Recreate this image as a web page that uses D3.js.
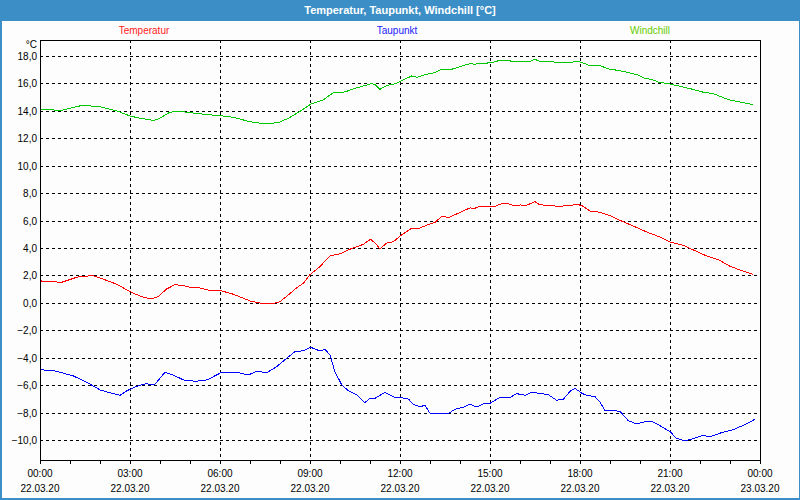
<!DOCTYPE html>
<html>
<head>
<meta charset="utf-8">
<script src="https://cdn.jsdelivr.net/npm/d3@7"></script>
<style>
html,body{margin:0;padding:0;background:#fff;}
svg{display:block;}
text{font-family:"Liberation Sans",Arial,sans-serif;}
</style>
</head>
<body>
<svg id="chart" width="800" height="500"></svg>
<script>
// ---- data ----
const title = "Temperatur, Taupunkt, Windchill [°C]";
const seriesNames = ["Temperatur", "Taupunkt", "Windchill"];
const seriesColors = ["#ff0000", "#0000ff", "#00c800"];
const legendTextColors = ["#ff1a1a", "#2020ff", "#66cc00"];
const yTicks = [-10, -8, -6, -4, -2, 0, 2, 4, 6, 8, 10, 12, 14, 16, 18];
const xMajorTicks = [0, 3, 6, 9, 12, 15, 18, 21, 24];
const xTimeLabels = ["00:00","03:00","06:00","09:00","12:00","15:00","18:00","21:00","00:00"];
const xDateLabels = ["22.03.20","22.03.20","22.03.20","22.03.20","22.03.20","22.03.20","22.03.20","22.03.20","23.03.20"];

const tempHours = [0,0.72,1.33,1.78,2.06,2.56,3.0,3.33,3.67,3.94,4.22,4.5,4.78,5.0,5.28,5.67,6.06,6.44,7.0,7.5,7.78,8.0,8.28,8.56,8.78,9.0,9.33,9.67,10.0,10.33,10.78,11.02,11.2,11.33,11.56,11.78,12.0,12.17,12.39,12.61,12.89,13.17,13.39,13.64,13.94,14.33,14.5,14.67,15.17,15.39,15.61,15.83,16.0,16.2,16.5,16.67,17.06,17.33,17.5,17.94,18.06,18.33,18.67,19.0,19.33,19.78,20.22,20.67,21.0,21.44,21.78,22.22,22.61,23.0,23.33,23.78];
const tempValues = [1.6,1.5,1.94,1.97,1.77,1.36,0.82,0.5,0.28,0.45,1.01,1.33,1.26,1.14,1.12,0.89,0.87,0.63,0.14,-0.08,-0.05,0.09,0.58,1.11,1.43,2.06,2.64,3.44,3.57,3.91,4.27,4.64,4.3,3.93,4.37,4.46,4.87,5.12,5.44,5.41,5.66,5.88,6.29,6.24,6.53,6.92,6.9,7.04,7.04,7.23,7.23,7.07,7.14,7.1,7.38,7.14,7.12,6.99,7.1,7.16,7.09,6.7,6.6,6.36,6.02,5.6,5.17,4.8,4.44,4.2,3.86,3.42,3.15,2.67,2.4,2.06];

const dewHours = [0,0.39,0.78,1.11,1.44,1.72,2.0,2.33,2.67,2.89,3.17,3.5,3.83,4.17,4.44,4.78,5.17,5.56,5.78,6.06,6.56,6.94,7.22,7.56,7.89,8.22,8.5,8.78,9.02,9.33,9.5,9.67,9.83,10.06,10.28,10.56,10.83,11.0,11.17,11.5,11.83,12.0,12.28,12.44,12.67,12.83,13.0,13.33,13.61,13.83,14.11,14.33,14.56,14.83,15.0,15.33,15.67,15.89,16.17,16.39,16.67,16.94,17.22,17.44,17.67,17.83,18.06,18.22,18.5,18.67,18.83,19.06,19.33,19.61,19.89,20.22,20.44,20.67,21.0,21.22,21.5,21.72,22.06,22.39,22.72,23.11,23.5,23.83];
const dewValues = [-4.89,-4.91,-5.13,-5.33,-5.67,-5.99,-6.35,-6.55,-6.74,-6.42,-6.13,-5.91,-5.93,-5.06,-5.26,-5.62,-5.72,-5.62,-5.38,-5.06,-5.06,-5.26,-4.99,-5.09,-4.65,-4.04,-3.56,-3.49,-3.24,-3.51,-3.4,-3.8,-5.02,-5.99,-6.4,-6.72,-7.28,-6.96,-6.96,-6.52,-6.91,-6.89,-7.01,-7.38,-7.6,-7.45,-8.05,-8.05,-8.07,-7.76,-7.61,-7.39,-7.6,-7.32,-7.32,-6.89,-6.89,-6.62,-6.74,-6.52,-6.6,-6.69,-7.1,-7.03,-6.45,-6.23,-6.59,-6.74,-6.84,-7.23,-7.86,-7.84,-7.91,-8.59,-8.83,-8.64,-8.69,-8.96,-9.39,-9.88,-10.07,-9.93,-9.7,-9.72,-9.46,-9.24,-8.88,-8.49];

const chillHours = [0,0.72,1.33,1.89,2.56,3.0,3.33,3.78,3.94,4.33,4.67,5.0,5.56,6.0,6.44,7.0,7.5,7.94,8.28,8.67,9.02,9.44,9.78,10.17,10.39,10.67,11.06,11.17,11.33,11.56,11.83,12.0,12.39,12.56,12.89,13.17,13.39,13.72,14.06,14.33,14.5,14.67,15.06,15.33,15.56,15.83,16.06,16.28,16.5,16.67,17.11,17.44,17.94,18.06,18.33,18.67,18.94,19.33,19.67,19.94,20.17,20.39,20.61,21.0,21.33,21.67,22.11,22.44,22.94,23.33,23.78];
const chillValues = [14.1,14.04,14.36,14.35,14.0,13.63,13.46,13.31,13.4,13.9,13.97,13.87,13.73,13.65,13.53,13.21,13.05,13.14,13.46,13.97,14.48,14.8,15.33,15.38,15.57,15.74,16.0,15.9,15.57,15.84,15.98,16.13,16.55,16.45,16.67,16.79,17.03,17.03,17.27,17.44,17.4,17.47,17.5,17.69,17.69,17.57,17.6,17.57,17.76,17.59,17.57,17.5,17.59,17.52,17.3,17.3,17.06,16.93,16.76,16.62,16.35,16.3,16.1,15.96,15.79,15.62,15.36,15.26,14.82,14.65,14.45];

// ---- layout ----
const W = 800, H = 500;
const plot = {left: 40, right: 760, top: 40, bottom: 460};
const svg = d3.select("#chart");

const x = d3.scaleLinear().domain([0, 24]).range([plot.left, plot.right]);
const y = d3.scaleLinear().domain([-10, 18]).range([440, 56]);

// background
svg.append("rect").attr("x",0).attr("y",0).attr("width",W).attr("height",H).attr("fill","#fcfdfc");
// window border + title bar
svg.append("rect").attr("x",0).attr("y",0).attr("width",W).attr("height",21).attr("fill","#3c8fc6");
svg.append("rect").attr("x",0.5).attr("y",0.5).attr("width",W-1).attr("height",H-1.5)
  .attr("fill","none").attr("stroke","#3c8fc6").attr("stroke-width",2).attr("shape-rendering","crispEdges");
svg.append("text").attr("x",W/2).attr("y",14).attr("text-anchor","middle")
  .attr("fill","#ffffff").attr("font-weight","bold").attr("font-size","11px").text(title);

// legend
const legendX = [144, 397, 650];
seriesNames.forEach((n,i)=>{
  svg.append("text").attr("x",legendX[i]).attr("y",34).attr("text-anchor","middle")
    .attr("font-size","10px").attr("fill",legendTextColors[i]).text(n);
});

// grid
const grid = svg.append("g").attr("stroke","#000").attr("stroke-width",1)
  .attr("stroke-dasharray","3,3").attr("shape-rendering","crispEdges");
yTicks.forEach(t=>{
  const yy = Math.round(y(t)) + 0.5;
  grid.append("line").attr("x1",plot.left).attr("x2",plot.right).attr("y1",yy).attr("y2",yy);
});
xMajorTicks.slice(1,-1).forEach(t=>{
  const xx = Math.round(x(t)) + 0.5;
  grid.append("line").attr("x1",xx).attr("x2",xx).attr("y1",plot.top).attr("y2",plot.bottom);
});

// y labels
yTicks.forEach(t=>{
  svg.append("text").attr("x",37).attr("y",Math.round(y(t))+4).attr("text-anchor","end")
    .attr("font-size","10px").attr("fill","#000").text(d3.format(".1f")(t).replace(".",","));
});
svg.append("text").attr("x",37).attr("y",48).attr("text-anchor","end")
  .attr("font-size","10px").attr("fill","#000").text("°C");

// x ticks
const ticks = svg.append("g").attr("stroke","#000").attr("shape-rendering","crispEdges");
d3.range(0,25).forEach(h=>{
  const xx = Math.round(x(h)) + 0.5;
  ticks.append("line").attr("x1",xx).attr("x2",xx).attr("y1",plot.bottom).attr("y2",plot.bottom+4);
});
xMajorTicks.forEach((h,i)=>{
  svg.append("text").attr("x",x(h)).attr("y",477).attr("text-anchor","middle")
    .attr("font-size","10px").attr("fill","#000").text(xTimeLabels[i]);
  svg.append("text").attr("x",x(h)).attr("y",492).attr("text-anchor","middle")
    .attr("font-size","10px").attr("fill","#000").text(xDateLabels[i]);
});

// series lines
const line = d3.line().x(d=>x(d[0])).y(d=>y(d[1]));
const series = [
  d3.zip(tempHours, tempValues),
  d3.zip(dewHours, dewValues),
  d3.zip(chillHours, chillValues)
];
series.forEach((s,i)=>{
  svg.append("path").datum(s).attr("d",line).attr("fill","none")
    .attr("stroke",seriesColors[i]).attr("stroke-width",1).attr("shape-rendering","crispEdges");
});

// frame
svg.append("rect").attr("x",plot.left+0.5).attr("y",plot.top+0.5)
  .attr("width",plot.right-plot.left).attr("height",plot.bottom-plot.top)
  .attr("fill","none").attr("stroke","#000").attr("stroke-width",1).attr("shape-rendering","crispEdges");
</script>
</body>
</html>
